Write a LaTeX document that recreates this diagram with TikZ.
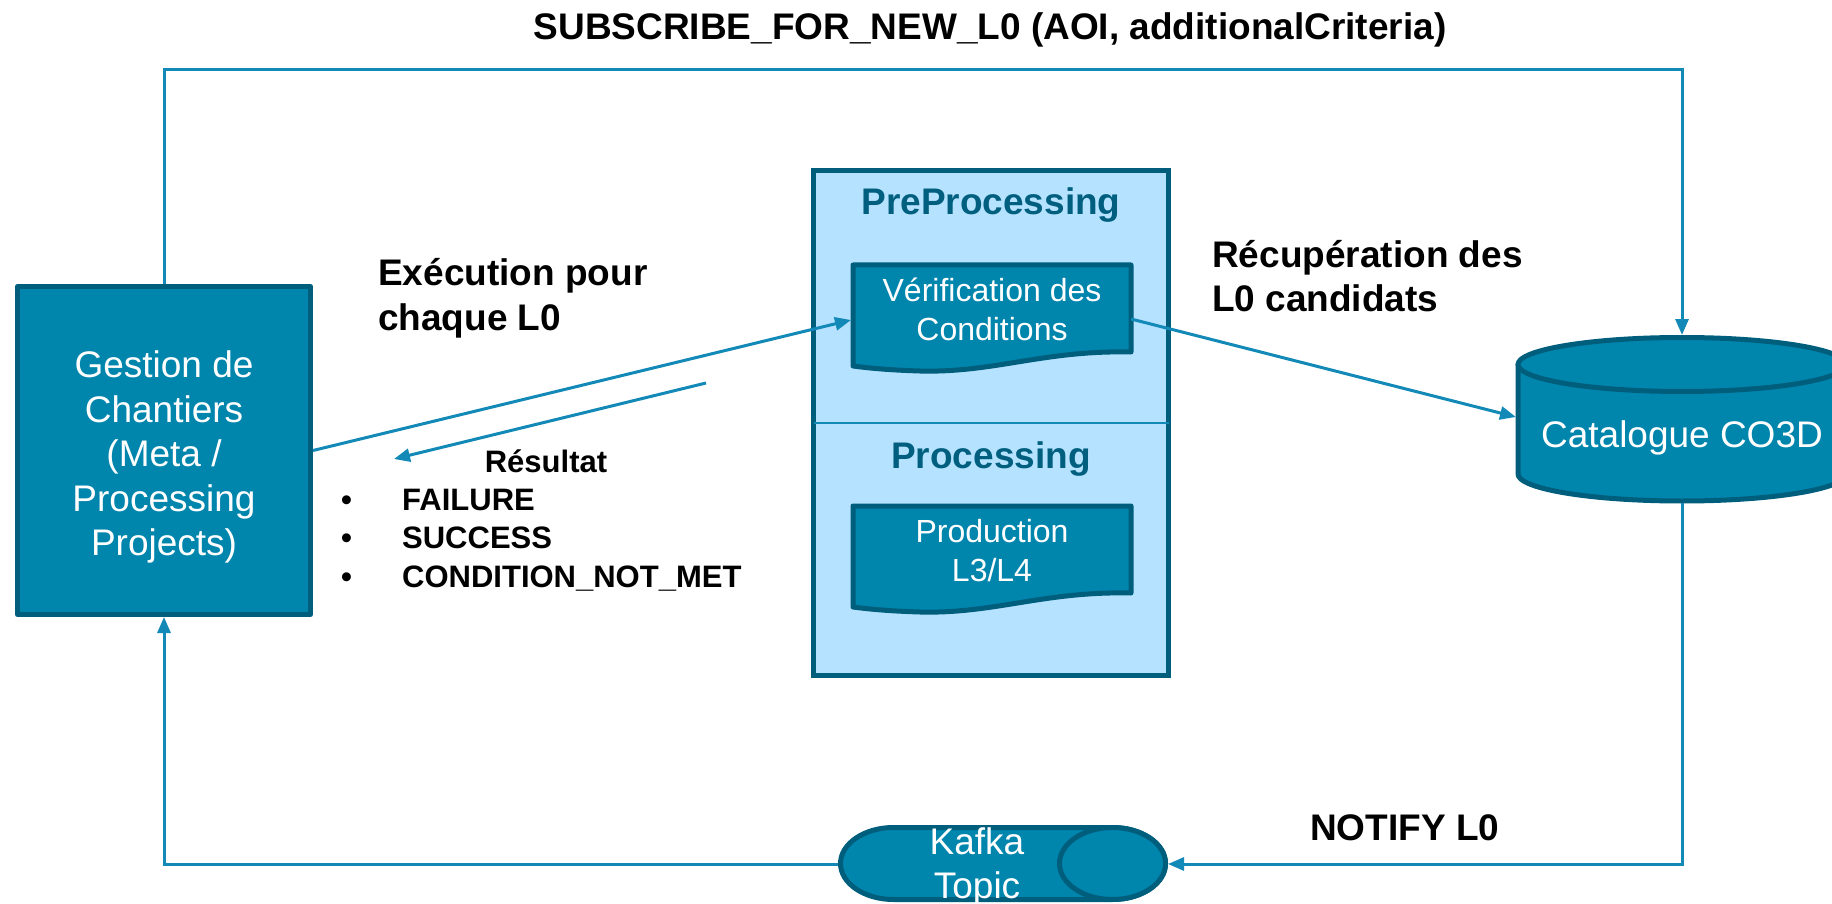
\documentclass[tikz,border=0pt]{standalone}
\usepackage{fontspec}
\setmainfont{Liberation Sans}
\usetikzlibrary{arrows.meta}

\definecolor{boxfill}{RGB}{0,133,173}
\definecolor{boxedge}{RGB}{0,94,125}
\definecolor{wire}{RGB}{18,137,182}
\definecolor{panelfill}{RGB}{181,226,255}
\definecolor{paneltitle}{RGB}{0,95,127}

\tikzset{
  solid shape/.style={fill=boxfill, draw=boxedge, line width=5pt, line join=round},
  flow/.style={draw=wire, line width=3pt, -{Triangle[length=16pt,width=13pt]}},
  divider/.style={draw=wire, line width=2pt},
  node text/.style={text=white, align=center, inner sep=0pt, font=\fontsize{37}{44.5}\selectfont},
  doc text/.style={text=white, align=center, inner sep=0pt, font=\fontsize{32}{39}\selectfont},
  caption/.style={text=black, inner sep=0pt, align=left, font=\fontsize{37}{44}\selectfont\bfseries},
  list text/.style={text=black, inner sep=0pt, align=left, font=\fontsize{31}{38.5}\selectfont\bfseries},
  panel title/.style={text=paneltitle, inner sep=0pt, font=\fontsize{37}{44}\selectfont\bfseries},
  docpage/.pic={
    \path[solid shape] (-139,0) -- (139,0) -- (139,87)
      .. controls (52,85) and (2,108) .. (-72,106)
      .. controls (-104,105) and (-124,103) .. (-139,101) -- cycle;
  },
}

\begin{document}
\begin{tikzpicture}[x=1pt,y=-1pt]
\clip (0,0) rectangle (1832,904);

% project management block
\node[solid shape, minimum width=293pt, minimum height=328pt, inner sep=0pt] (gestion) at (164,450.5) {};
\node[node text] (gestiontext) at (164,457) {Gestion de\\Chantiers\\(Meta /\\Processing\\Projects)};

% processing stage panel with its two steps
\node[fill=panelfill, draw=boxedge, line width=5pt, minimum width=355pt, minimum height=505pt, inner sep=0pt] (stage) at (991,423) {};
\draw[divider] (813.5,423) -- (1168.5,423);
\node[panel title] (pretitle) at (991,205) {PreProcessing};
\node[panel title] (proctitle) at (991,459.5) {Processing};

\pic at (992,265) {docpage};
\node[doc text] (verif) at (992,309) {Vérification des\\Conditions};
\pic at (992,506) {docpage};
\node[doc text] (prod) at (992,551) {Production\\L3/L4};

% catalogue database
\path[solid shape] (1518,364.5) -- (1518,474)
  .. controls (1518,488.9) and (1591.4,501) .. (1682,501)
  .. controls (1772.6,501) and (1846,488.9) .. (1846,474)
  -- (1846,364.5) -- cycle;
\path[solid shape] (1682,364.5) ellipse [x radius=164pt, y radius=27pt];
\node[node text] (cat) at (1682,437.5) {Catalogue CO3D};

% kafka topic queue
\path[solid shape] (893.5,827.5) -- (1112.5,827.5)
  .. controls (1141.8,827.5) and (1165.5,843.6) .. (1165.5,863.5)
  .. controls (1165.5,883.4) and (1141.8,899.5) .. (1112.5,899.5)
  -- (893.5,899.5)
  .. controls (864.2,899.5) and (840.5,883.4) .. (840.5,863.5)
  .. controls (840.5,843.6) and (864.2,827.5) .. (893.5,827.5) -- cycle;
\path[solid shape] (1112.5,863.5) ellipse [x radius=53pt, y radius=36pt];
\node[node text] (kafka) at (977,867) {Kafka\\Topic};

% connection points
\coordinate (gestionS) at (164,617);
\coordinate (verifW) at (851,320);
\coordinate (verifE) at (1131,319);
\coordinate (catW) at (1516,417);
\coordinate (catN) at (1682,335);
\coordinate (catS) at (1682,503);
\coordinate (kafkaW) at (838,864);
\coordinate (kafkaE) at (1168,864);
\coordinate (topturn) at (1682,70);
\coordinate (resultfrom) at (706,383);
\coordinate (resultto) at (394,459);

% connectors
\draw[flow] (gestion.north) |- (topturn) -- (catN);
\draw[flow] (catS) |- (kafkaE);
\draw[flow] (kafkaW) -| (gestionS);
\draw[flow] (gestion.east) -- (verifW);
\draw[flow] (verifE) -- (catW);
\draw[flow] (resultfrom) -- (resultto);

% labels (base anchor of a multi-line node is its last line)
\node[caption, anchor=base] (subscribe) at (990,40) {SUBSCRIBE\_FOR\_NEW\_L0 (AOI, additionalCriteria)};
\node[caption, anchor=base west] (exec) at (378,330) {Exécution pour\\chaque L0};
\node[caption, anchor=base west] (recup) at (1212,312) {Récupération des\\L0 candidats};
\node[caption, anchor=base west] (notify) at (1310,840) {NOTIFY L0};
\node[list text, anchor=base] (result) at (546,472) {Résultat};
\node[list text, anchor=base west] (outcomes) at (341,587)
  {\makebox[61pt][l]{•}FAILURE\\\makebox[61pt][l]{•}SUCCESS\\\makebox[61pt][l]{•}CONDITION\_NOT\_MET};
\end{tikzpicture}
\end{document}
